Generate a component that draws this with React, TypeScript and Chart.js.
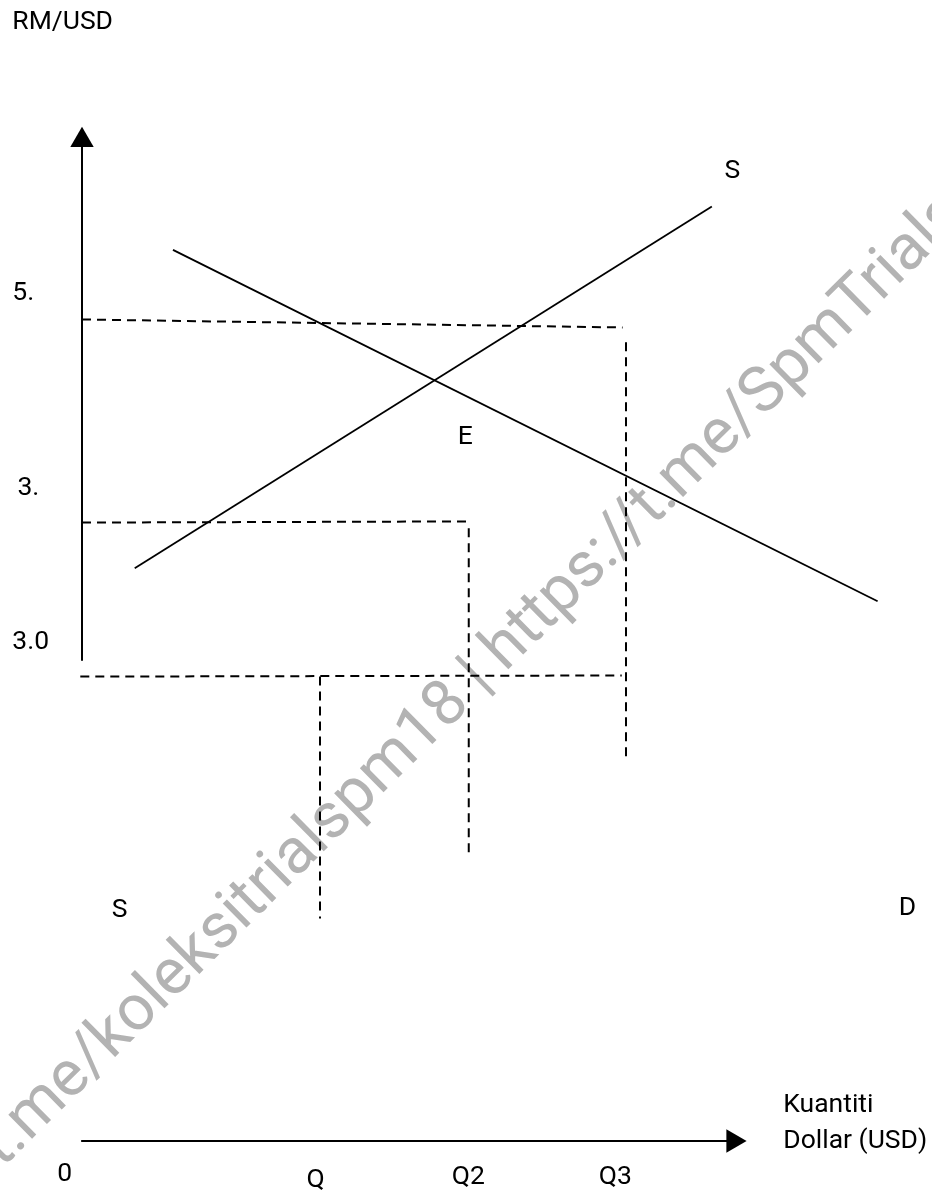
import React, { useEffect, useRef } from "react";
import { Chart, registerables } from "chart.js";

Chart.register(...registerables);

// ---- Diagram data (abstract units: quantity 0..100, price 0..100) ----
const supplyX = [6.2, 74.1];
const supplyY = [50.2, 81.9];
const demandX = [10.7, 93.6];
const demandY = [78.1, 47.3];

const highPriceX = [0, 63.6];
const highPriceY = [72.0, 71.3];
const q3GuideX = [64.0, 64.0];
const q3GuideY = [70.0, 33.7];

const midPriceX = [0, 45.4];
const midPriceY = [54.2, 54.3];
const q2GuideX = [45.5, 45.5];
const q2GuideY = [53.7, 25.2];

const lowPriceX = [-0.2, 63.5];
const lowPriceY = [40.7, 40.8];
const qGuideX = [28.0, 28.0];
const qGuideY = [40.7, 19.5];

const yAxisX = [0, 0];
const yAxisY = [42.1, 87.5];
const xAxisX = [-0.1, 76.0];
const xAxisY = [0, 0];

const arrowX = [0, 76.6];
const arrowY = [87.7, 0];
const arrowRotation = [0, 90];

const labelTexts = ["RM/USD", "5.", "3.", "3.0", "S", "E", "S", "D", "0", "Q", "Q2", "Q3", "Kuantiti", "Dollar (USD)"];
const labelX = [-8.2, -8.2, -7.6, -8.2, 75.6, 44.2, 3.5, 96.1, -2.9, 26.4, 43.5, 60.8, 82.5, 82.5];
const labelY = [97.5, 73.7, 56.6, 43.1, 84.4, 61.1, 19.6, 19.8, -3.5, -4.0, -3.8, -3.8, 2.5, -0.6];

const watermarkText = "t.me/koleksitrialspm18 | https://t.me/SpmTrials";
const watermarkPos = [-9.4, -2.4];
const watermarkAngle = -44.6;

const seg = (xs: number[], ys: number[]) => xs.map((v, i) => ({ x: v, y: ys[i] }));

const solid = (xs: number[], ys: number[], w = 1.8) => ({
  data: seg(xs, ys),
  showLine: true,
  borderColor: "#000",
  borderWidth: w,
  pointRadius: 0,
  fill: false,
  clip: false as const,
});

const dashed = (xs: number[], ys: number[]) => ({
  ...solid(xs, ys, 2),
  borderDash: [9, 6],
});

const textPlugin = {
  id: "diagramText",
  beforeDatasetsDraw(chart: any) {
    const { ctx, scales } = chart;
    const px = scales.x.getPixelForValue(watermarkPos[0]);
    const py = scales.y.getPixelForValue(watermarkPos[1]);
    ctx.save();
    ctx.translate(px, py);
    ctx.rotate((watermarkAngle * Math.PI) / 180);
    ctx.font = "64px Roboto";
    ctx.textAlign = "left";
    ctx.textBaseline = "alphabetic";
    ctx.lineJoin = "round";
    ctx.strokeStyle = "#ffffff";
    ctx.lineWidth = 4;
    ctx.strokeText(watermarkText, 0, 0);
    ctx.fillStyle = "#b3b3b3";
    ctx.fillText(watermarkText, 0, 0);
    ctx.restore();
  },
  afterDatasetsDraw(chart: any) {
    const { ctx, scales } = chart;
    ctx.save();
    ctx.font = "26.5px Roboto";
    ctx.fillStyle = "#000";
    ctx.textAlign = "left";
    ctx.textBaseline = "alphabetic";
    labelTexts.forEach((t, i) => {
      ctx.fillText(t, scales.x.getPixelForValue(labelX[i]), scales.y.getPixelForValue(labelY[i]));
    });
    ctx.restore();
  },
};

export default function App() {
  const ref = useRef<HTMLCanvasElement>(null);
  useEffect(() => {
    if (!ref.current) return;
    const chart = new Chart(ref.current, {
      type: "scatter",
      data: {
        datasets: [
          solid(yAxisX, yAxisY, 2),
          solid(xAxisX, xAxisY, 2),
          solid(supplyX, supplyY),
          solid(demandX, demandY),
          dashed(highPriceX, highPriceY),
          dashed(q3GuideX, q3GuideY),
          dashed(midPriceX, midPriceY),
          dashed(q2GuideX, q2GuideY),
          dashed(lowPriceX, lowPriceY),
          dashed(qGuideX, qGuideY),
          {
            data: seg(arrowX, arrowY),
            showLine: false,
            pointStyle: "triangle",
            pointRadius: 13.5,
            rotation: arrowRotation,
            backgroundColor: "#000",
            borderColor: "#000",
            borderWidth: 0,
            clip: false as const,
          } as any,
        ],
      },
      options: {
        animation: false,
        responsive: false,
        events: [],
        layout: { autoPadding: false, padding: { left: 82, right: 0, top: 0, bottom: 52 } },
        plugins: { legend: { display: false }, tooltip: { enabled: false } },
        scales: {
          x: { type: "linear", min: 0, max: 100, display: false },
          y: { type: "linear", min: 0, max: 100, display: false },
        },
      },
      plugins: [textPlugin],
    });
    return () => chart.destroy();
  }, []);
  return (
    <div style={{ position: "absolute", left: 0, top: 0, width: 932, height: 1193, background: "#fff" }}>
      <canvas ref={ref} width={932} height={1193} />
    </div>
  );
}
